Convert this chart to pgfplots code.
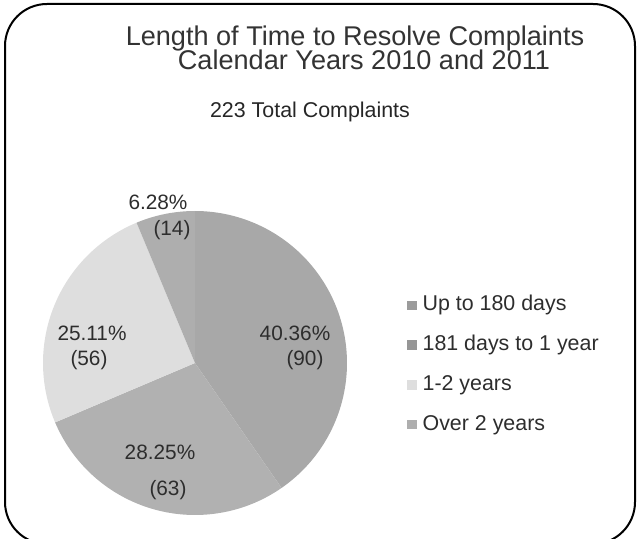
\documentclass[border=0pt]{standalone}
\usepackage{fontspec}
\setmainfont{Liberation Sans}
\usepackage{pgfplots}
\pgfplotsset{compat=1.18}

\definecolor{sliceA}{RGB}{168,168,168}
\definecolor{sliceB}{RGB}{177,177,177}
\definecolor{sliceC}{RGB}{222,222,222}
\definecolor{sliceD}{RGB}{174,174,174}
\definecolor{labelgray}{RGB}{45,45,45}

% complaints per category, total 223
\def\nA{90}\def\nB{63}\def\nC{56}\def\nD{14}
\def\ntot{223}
% pie centre and radius in picture pixels
\def\cx{195}\def\cy{363}\def\rr{152}

\begin{document}
\begin{tikzpicture}
\pgfmathsetmacro\aA{90}
\pgfmathsetmacro\aB{\aA-\nA/\ntot*360}
\pgfmathsetmacro\aC{\aB-\nB/\ntot*360}
\pgfmathsetmacro\aD{\aC-\nC/\ntot*360}
\pgfmathsetmacro\aE{\aD-\nD/\ntot*360}
\begin{axis}[
    width=318.5pt, height=269.5pt, scale only axis,
    xmin=0, xmax=637, ymin=0, ymax=539, y dir=reverse,
    hide axis, clip=false,
    legend image code/.code={\fill[#1, draw=none] (0pt,-2.3pt) rectangle (4.6pt,2.3pt);},
    legend cell align=left,
    legend style={at={(axis cs:407,365)}, anchor=west, draw=none, fill=none,
        font=\fontsize{10.7}{12}\selectfont, text=labelgray, row sep=10.1pt,
        inner sep=0pt, nodes={inner sep=0pt, text height=7.6pt, text depth=2.2pt},
        /tikz/every odd column/.append style={column sep=3pt}},
]
\addplot[draw=none, fill=sliceA, domain=\aB:\aA, samples=90, forget plot]
    ({\cx+\rr*cos(x)}, {\cy-\rr*sin(x)}) -- (\cx,\cy) -- cycle;
\addplot[draw=none, fill=sliceB, domain=\aC:\aB, samples=70, forget plot]
    ({\cx+\rr*cos(x)}, {\cy-\rr*sin(x)}) -- (\cx,\cy) -- cycle;
\addplot[draw=none, fill=sliceC, domain=\aD:\aC, samples=70, forget plot]
    ({\cx+\rr*cos(x)}, {\cy-\rr*sin(x)}) -- (\cx,\cy) -- cycle;
\addplot[draw=none, fill=sliceD, domain=\aE:\aD, samples=30, forget plot]
    ({\cx+\rr*cos(x)}, {\cy-\rr*sin(x)}) -- (\cx,\cy) -- cycle;

\addlegendimage{fill=sliceA!92!black}
\addlegendimage{fill=sliceB!85!black}
\addlegendimage{fill=sliceC}
\addlegendimage{fill=sliceD}
\legend{Up to 180 days, 181 days to 1 year, 1-2 years, Over 2 years}

% frame
\draw[line width=1pt, rounded corners=21pt] (axis cs:5,4) rectangle (axis cs:635,544);

% titles
\node[anchor=base, inner sep=0pt, font=\fontsize{13.55}{15}\selectfont, text=black!80] at (axis cs:355,46) {Length of Time to Resolve Complaints};
\node[anchor=base, inner sep=0pt, font=\fontsize{13.55}{15}\selectfont, text=black!80] at (axis cs:364,70) {Calendar Years 2010 and 2011};
\node[anchor=base, inner sep=0pt, font=\fontsize{10.7}{12}\selectfont, text=black!85] at (axis cs:310,118) {223 Total Complaints};

% slice labels
\begin{scope}[every node/.style={font=\fontsize{10.4}{12}\selectfont, text=labelgray}]
\node at (axis cs:158,202) {6.28\%};
\node at (axis cs:172,230) {(14)};
\node at (axis cs:92,333) {25.11\%};
\node at (axis cs:89,360) {(56)};
\node at (axis cs:295,333) {40.36\%};
\node at (axis cs:305,360) {(90)};
\node at (axis cs:160,452) {28.25\%};
\node at (axis cs:168,490) {(63)};
\end{scope}
\end{axis}
\pgfresetboundingbox
\path (current axis.south west) rectangle (current axis.north east);
\end{tikzpicture}
\end{document}
